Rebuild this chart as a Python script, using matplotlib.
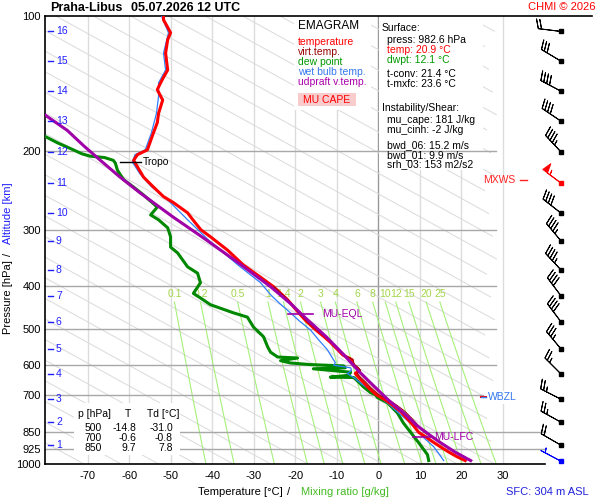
import numpy as np
import matplotlib
matplotlib.use('Agg')
from matplotlib import pyplot as plt
from matplotlib.patches import Rectangle
import matplotlib.transforms as mtrans

plt.rcParams['font.family'] = ['Liberation Sans', 'DejaVu Sans']

### sounding data
p_T = [982.6, 964, 940, 915, 890, 870, 850, 818, 790, 763, 740, 720, 700, 676, 655, 641, 628,
       618, 610, 603, 596, 585, 571, 550, 536, 520, 502, 480, 460, 430, 402, 383, 360, 333,
       311, 300, 286, 275, 261, 253, 241, 229, 217, 210, 204, 199, 182, 173, 165, 154, 151,
       146, 141, 137, 132, 121, 113, 109, 106, 102, 100]
T = [20.9, 19.0, 16.9, 14.9, 12.9, 11.4, 9.7, 8.3, 6.8, 5.3, 3.5, 1.7, -0.6, -2.4, -3.8, -4.8,
     -5.6, -4.7, -5.2, -5.9, -6.3, -6.4, -8.6, -10.3, -11.5, -13.1, -15.1, -17.4, -19.2, -21.9,
     -25.3, -28.4, -32.5, -36.4, -40.5, -42.8, -44.6, -46.0, -49.4, -51.8, -54.2, -56.6, -58.1,
     -59.0, -58.1, -55.7, -54.2, -53.3, -53.0, -52.0, -52.5, -53.3, -52.5, -51.8, -50.8, -51.3,
     -50.8, -50.1, -50.8, -51.8, -51.8]

p_Tv = [982.6, 964, 940, 915, 890, 870, 850, 818, 790, 763, 740, 720, 700, 676, 655, 641, 628,
        618, 610, 603, 596, 585, 571, 550, 536, 520, 502, 480, 460, 430, 402]
Tv = [22.5, 20.6, 18.4, 16.3, 14.3, 12.7, 11.0, 9.5, 8.0, 6.4, 4.5, 2.6, 0.1, -1.8, -3.2, -4.3,
      -5.1, -4.3, -4.8, -5.5, -5.9, -6.1, -8.3, -10.0, -11.3, -12.9, -14.9, -17.3, -19.1, -21.8,
      -25.2]

p_Td = [982.6, 953, 894, 851, 810, 770, 730, 711, 700, 693, 673, 656, 641, 640, 634, 624, 613,
        610, 604, 600, 595, 588, 580, 577, 563, 548, 520, 495, 470, 460, 441, 426, 416, 394,
        375, 363, 338, 328, 311, 297, 285, 278, 267, 251, 241, 232, 221, 213, 210, 207, 205.5,
        203, 199, 192, 186, 183]
Td = [12.1, 11.8, 9.6, 7.8, 6.0, 4.6, 2.2, -0.2, -0.8, -1.9, -3.6, -4.8, -6.0, -11.6, -7.2,
      -6.7, -15.7, -8.0, -8.4, -16.4, -21.2, -23.6, -19.5, -24.3, -26.0, -26.7, -27.7, -30.1,
      -31.6, -34.9, -40.5, -42.9, -44.6, -42.9, -43.6, -46.0, -48.4, -50.1, -50.1, -50.8, -53.0,
      -54.9, -53.3, -56.6, -59.0, -61.4, -62.9, -63.4, -63.9, -66.0, -69.5, -71.5, -73.5, -77.3,
      -80.2, -82.0]

p_Tw = [982.6, 950, 915, 872, 840, 810, 766, 735, 711, 690, 676, 660, 641, 628, 618, 610, 602,
        594, 580, 556, 530, 502, 480, 460, 440, 419, 394, 360, 316, 285, 260, 240, 225, 212,
        204, 199, 182, 165, 151, 141, 132, 121, 109, 100]
Tw = [15.7, 14.6, 13.3, 10.8, 9.2, 7.7, 4.6, 2.5, 0.5, -1.3, -2.7, -4.3, -6.0, -7.5, -6.5, -6.7,
      -10.8, -10.4, -11.1, -12.3, -14.3, -16.4, -19.0, -21.2, -23.6, -26.0, -28.4, -33.8, -41.0,
      -46.0, -50.3, -54.8, -57.5, -59.3, -58.7, -56.2, -54.7, -53.5, -53.0, -53.0, -51.3, -51.8,
      -50.6, -52.3]

p_par = [982.6, 940, 893, 861, 820, 777, 720, 666, 620, 571, 520, 472, 440, 402, 356, 316, 281,
         248, 228, 210, 195, 180, 166]
T_par = [22.2, 18.4, 14.7, 12.3, 9.2, 6.6, 2.4, -1.4, -4.8, -8.3, -12.6, -17.6, -21.0, -26.0,
         -33.7, -41.5, -49.5, -57.5, -62.5, -67.0, -71.0, -75.0, -80.5]

### winds at each km (and surface)
alt_km = [16, 15, 14, 13, 12, 11, 10, 9, 8, 7, 6, 5, 4, 3, 2, 1]
p_km = [108, 126, 147, 171.5, 201, 236, 275, 318, 369, 422, 482, 554, 629, 716, 806, 907]
wind_p = p_km + [982.6]
wind_dir = [277, 301, 298, 304, 317, 307, 308, 320, 317, 323, 323, 320, 315, 297, 299, 300, 298]
wind_spd = [20, 30, 40, 40, 45, 55, 40, 45, 45, 40, 40, 35, 25, 25, 25, 20, 5]

p_levels = [100, 200, 300, 400, 500, 600, 700, 850, 925, 1000]
t_ticks = [-70, -60, -50, -40, -30, -20, -10, 0, 10, 20, 30]
mix_ratios = [0.1, 0.2, 0.5, 1, 1.4, 2, 3, 4, 6, 8, 10, 12, 15, 20, 25]

tab_p = ['500', '700', '850']
tab_T = ['-14.8', '-0.6', '9.7']
tab_Td = ['-31.0', '-0.8', '7.8']


def fx(x):
    return x / 600.0


def fy(y):
    return 1 - y / 500.0


def dewpt(e):
    l = np.log(e / 6.112)
    return 243.5 * l / (17.67 - l)


fig = plt.figure(figsize=(6, 5), dpi=100)
ax = fig.add_axes([fx(45), fy(464), fx(592) - fx(45), fy(16) - fy(464)])
xmin, xmax = -80.36, 51.45
ax.set_xlim(xmin, xmax)
ax.set_yscale('log')
ax.set_ylim(1000, 100)
ax.set_yticks(p_levels)
ax.set_yticklabels([str(p) for p in p_levels], fontsize=8)
ax.minorticks_off()
ax.set_xticks(t_ticks)
ax.set_xticklabels([str(t) for t in t_ticks], fontsize=8)
ax.tick_params(length=0, pad=3)
ax.tick_params(axis='x', pad=5)
for s in ['right', 'bottom']:
    ax.spines[s].set_visible(False)
ax.spines['left'].set_linewidth(1.2)
ax.spines['top'].set_linewidth(1.2)
ax.plot([xmin, 40.2], [1000, 1000], color='k', lw=1.2, clip_on=False, zorder=8)

### background: isotherms, adiabat hatching, mixing ratio lines
for t in range(-70, 40, 10):
    ax.axvline(t, color='#999999' if t == 0 else '#dcdcdc', lw=1, zorder=1)

pp = np.logspace(2, 3, 60)
for t0 in np.arange(-80, 300, 9):
    tt = t0 - 85.0 * np.log(1000.0 / pp)
    tt = np.where(tt <= 28.5, tt, np.nan)
    ax.plot(tt, pp, color='#dadada', lw=0.7, zorder=1)

pm = np.linspace(435, 1000, 50)
for w in mix_ratios:
    e = w * pm / (622.0 + w)
    ax.plot(dewpt(e), pm, color='#a6f07a', lw=0.8, zorder=1.2)
    ax.text(dewpt(w * 435 / (622.0 + w)), 417, ('%g' % w), color='#a2d64a', fontsize=7.5,
            ha='center', va='center', zorder=1.2)

### white boxes behind text
for (x0, y0, x1, y1, z) in [(294, 16, 371, 110, 1.5), (379, 16, 483, 170, 1.5),
                             (74, 403, 180, 455, 6), (484, 391, 521, 404, 6)]:
    ax.add_patch(Rectangle((fx(x0), fy(y1)), fx(x1) - fx(x0), fy(y0) - fy(y1),
                           transform=fig.transFigure, facecolor='white', edgecolor='none', zorder=z))

for p in [200, 300, 400, 500, 600, 700, 850, 925]:
    xe = 40.2 if p >= 850 else 28.4
    ax.plot([xmin, xe], [p, p], color='#a8a8a8', lw=1, zorder=2, clip_on=False)

### CAPE shading
pg = np.linspace(871, 605, 120)
lp_par = np.log(p_par[::-1])
lp_tv = np.log(p_Tv[::-1])
par_i = np.interp(np.log(pg), lp_par, T_par[::-1])
tv_i = np.interp(np.log(pg), lp_tv, Tv[::-1])
ax.fill_betweenx(pg, tv_i, par_i, where=par_i > tv_i, color='#f7c6c6', lw=0, zorder=2.5)

### profiles
ax.plot(Td, p_Td, color='#008800', lw=2.2, zorder=3)
ax.plot(Tw, p_Tw, color='#2f7fff', lw=0.9, zorder=3.2)
ax.plot(T, p_T, color='#ff0000', lw=2.2, zorder=3.5)
ax.plot(Tv, p_Tv, color='#990000', lw=0.7, zorder=3.6)
ax.plot(T_par, p_par, color='#a000a8', lw=2.2, zorder=3.8)

### annotations
ax.plot([-62.2, -57.3], [212, 212], color='k', lw=1, zorder=6)
ax.text(-56.8, 212, 'Tropo', fontsize=7.5, va='center', zorder=7)
ax.plot([-21.9, -15.7], [462, 462], color='#a000a8', lw=1.2, zorder=6)
ax.text(-13.5, 462, 'MU-EQL', fontsize=7.5, color='#a000a8', va='center', zorder=7)
ax.plot([8.2, 13.0], [871, 871], color='#a000a8', lw=1.2, zorder=6)
ax.text(13.3, 871, 'MU-LFC', fontsize=7.5, color='#a000a8', va='center', zorder=7)
ax.plot([24.8, 26.0], [708, 708], color='#ff0000', lw=1.5, zorder=7)
ax.plot([24.8, 26.0], [709.5, 709.5], color='#2f7fff', lw=1, zorder=7)
ax.text(26.4, 708, 'WBZL', fontsize=7.5, color='#3377ee', va='center', zorder=7)
ax.text(33.0, 232, 'MXWS', fontsize=7.5, color='#ff2020', va='center', ha='right', zorder=7)
ax.plot([34.2, 35.9], [232, 232], color='#ff2020', lw=1, clip_on=False, zorder=7)

### altitude scale
blend = mtrans.blended_transform_factory(fig.transFigure, ax.transData)
for a, p in zip(alt_km, p_km):
    ax.plot([fx(48), fx(53)], [p, p], color='#2020ff', lw=1, transform=blend, zorder=7)
    ax.text(fx(56), p, str(a), color='#2020ff', fontsize=7.5, va='center', transform=blend, zorder=7)

### wind barbs
wd = np.radians(wind_dir)
u = -np.array(wind_spd) * np.sin(wd)
v = -np.array(wind_spd) * np.cos(wd)
bx = 44.1
cols = ['k'] * len(wind_p)
cols[5] = '#ff0000'
cols[-1] = '#0000ff'
for i in range(len(wind_p)):
    ax.barbs([bx], [wind_p[i]], [u[i]], [v[i]], length=5.8, lw=0.7, color=cols[i],
             sizes=dict(spacing=0.14, height=0.4, width=0.25), clip_on=False, zorder=6)
    ax.plot([bx], [wind_p[i]], 's', ms=2.2, color=cols[i], clip_on=False, zorder=6)

### legend box
fig.text(fx(298), fy(26), 'EMAGRAM', fontsize=8.5, va='center')
leg = [('temperature', '#ff0000'), ('virt.temp.', '#990000'), ('dew point', '#009900'),
       ('wet bulb temp.', '#3377ee'), ('udpraft v.temp.', '#aa00aa')]
for i, (s, c) in enumerate(leg):
    fig.text(fx(298), fy(42 + 10 * i), s, color=c, fontsize=7.5, va='center')
fig.patches.append(Rectangle((fx(298), fy(106)), fx(356) - fx(298), fy(93) - fy(106),
                             transform=fig.transFigure, facecolor='#f8cccc', edgecolor='none'))
fig.text(fx(303), fy(100), 'MU CAPE', color='#ff0000', fontsize=7.5, va='center')

### surface / instability box
sfc_lines = [(382, 28, 'Surface:', 'k'), (387, 40, 'press: 982.6 hPa', 'k'),
             (387, 50, 'temp: 20.9 °C', '#ff0000'), (387, 60, 'dwpt: 12.1 °C', '#009900'),
             (387, 74, 't-conv: 21.4 °C', 'k'), (387, 84, 't-mxfc: 23.6 °C', 'k'),
             (382, 108, 'Instability/Shear:', 'k'), (387, 120, 'mu_cape: 181 J/kg', 'k'),
             (387, 130, 'mu_cinh: -2 J/kg', 'k'), (387, 145, 'bwd_06: 15.2 m/s', 'k'),
             (387, 155, 'bwd_01: 9.9 m/s', 'k'), (387, 164, 'srh_03: 153 m2/s2', 'k')]
for x, y, s, c in sfc_lines:
    fig.text(fx(x), fy(y), s, color=c, fontsize=7.5, va='center')

### table bottom left
fig.text(fx(78), fy(414), 'p [hPa]', fontsize=7.5, va='center')
fig.text(fx(125), fy(414), 'T', fontsize=7.5, va='center')
fig.text(fx(147), fy(414), 'Td [°C]', fontsize=7.5, va='center')
for i in range(3):
    yy = fy(428 + 10 * i)
    fig.text(fx(102), yy, tab_p[i], fontsize=7.5, va='center', ha='right')
    fig.text(fx(136), yy, tab_T[i], fontsize=7.5, va='center', ha='right')
    fig.text(fx(173), yy, tab_Td[i], fontsize=7.5, va='center', ha='right')

### titles and axis labels
fig.text(fx(50), fy(8), 'Praha-Libus', fontsize=9, fontweight='bold', va='center')
fig.text(fx(131), fy(8), '05.07.2026 12 UTC', fontsize=9, fontweight='bold', va='center')
fig.text(fx(595), fy(7), 'CHMI © 2026', fontsize=8, color='#ff0000', va='center', ha='right')
fig.text(fx(240), fy(492), 'Temperature [°C]', fontsize=8, va='center', ha='center')
fig.text(fx(289), fy(492), '/', fontsize=8, va='center', ha='center')
fig.text(fx(345), fy(492), 'Mixing ratio [g/kg]', fontsize=8, color='#44bb22', va='center', ha='center')
fig.text(fx(589), fy(492), 'SFC: 304 m ASL', fontsize=8, color='#2222dd', va='center', ha='right')
fig.text(fx(8), fy(297), 'Pressure [hPa]', fontsize=8, rotation=90, va='center', ha='center')
fig.text(fx(8), fy(254), '/', fontsize=8, rotation=90, va='center', ha='center')
fig.text(fx(8), fy(213), 'Altitude [km]', fontsize=8, rotation=90, color='#2020ff', va='center', ha='center')

fig.savefig('out.png', dpi=100)
